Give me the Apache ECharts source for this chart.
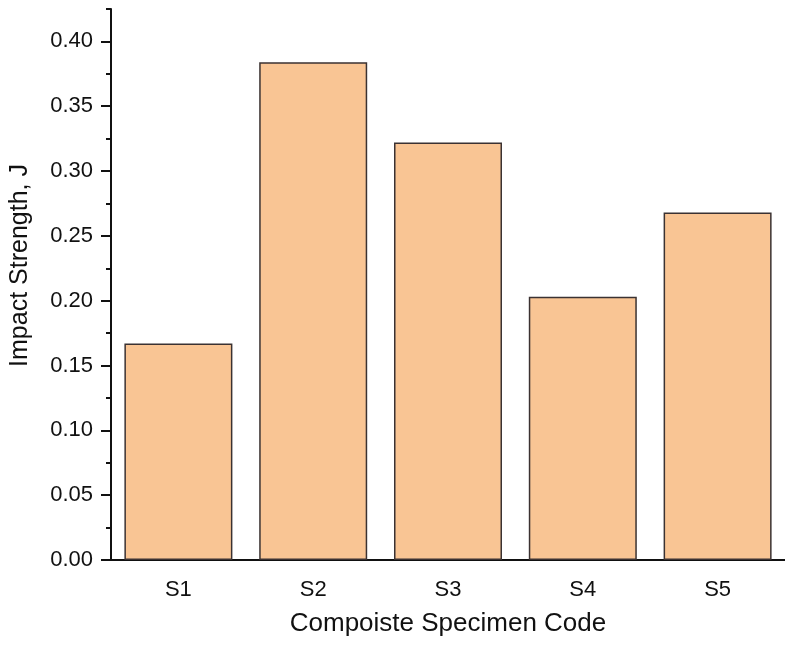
<!DOCTYPE html>
<html>
<head>
<meta charset="utf-8">
<script src="https://cdn.jsdelivr.net/npm/echarts@6/dist/echarts.min.js"></script>
<style>
  html, body { margin: 0; padding: 0; background: #fff; }
  #chart { width: 785px; height: 645px; }
</style>
</head>
<body>
<div id="chart"></div>
<script>
// data
var specimens = ['S1', 'S2', 'S3', 'S4', 'S5'];
var impactStrength = [0.167, 0.384, 0.322, 0.203, 0.268];
var yMajorTicks = [0, 0.05, 0.10, 0.15, 0.20, 0.25, 0.30, 0.35, 0.40];

var font = 'Liberation Sans, Arial, sans-serif';
var ink = '#111';

var chart = echarts.init(document.getElementById('chart'));

var option = {
    backgroundColor: '#fff',
    animation: false,
    grid: {
        left: 111,
        right: -7,
        top: 9,
        bottom: 85
    },
    xAxis: [{
        type: 'category',
        data: specimens,
        name: 'Compoiste Specimen Code',
        nameLocation: 'middle',
        nameGap: 51,
        nameTextStyle: { fontFamily: font, fontSize: 26, color: ink },
        axisLine: { lineStyle: { color: ink, width: 2 } },
        axisTick: { alignWithLabel: true, length: 10, lineStyle: { color: ink, width: 2 } },
        axisLabel: { margin: 19, fontFamily: font, fontSize: 22, color: ink }
    }, {
        // boundary (minor) ticks between the categories
        type: 'category',
        data: specimens,
        position: 'bottom',
        axisLine: { show: false },
        axisTick: { length: 5, lineStyle: { color: ink, width: 2 } },
        axisLabel: { show: false }
    }],
    yAxis: [{
        type: 'value',
        min: 0,
        max: 0.425,
        interval: 0.05,
        position: 'left',
        name: 'Impact Strength, J',
        nameLocation: 'middle',
        nameGap: 78,
        nameTextStyle: { fontFamily: font, fontSize: 25, color: ink, padding: [0, 0, 0, 38] },
        splitLine: { show: false },
        axisLine: { show: true, lineStyle: { color: ink, width: 2 } },
        axisTick: { show: true, length: 10, customValues: yMajorTicks, lineStyle: { color: ink, width: 2 } },
        axisLabel: {
            margin: 18, fontFamily: font, fontSize: 22, color: ink,
            customValues: yMajorTicks,
            formatter: function (v) { return v.toFixed(2); }
        }
    }, {
        // minor ticks every 0.025
        type: 'value',
        min: 0,
        max: 0.425,
        interval: 0.025,
        position: 'left',
        offset: 0,
        splitLine: { show: false },
        axisLine: { show: false },
        axisTick: { show: true, length: 5, lineStyle: { color: ink, width: 2 } },
        axisLabel: { show: false }
    }],
    series: [{
        type: 'bar',
        data: impactStrength,
        barWidth: 108,
        itemStyle: {
            color: '#f9c594',
            borderColor: '#3b3232',
            borderWidth: 1.5
        }
    }]
};

chart.setOption(option);
window.addEventListener('resize', function () {
    chart.resize();
});
</script>
</body>
</html>
